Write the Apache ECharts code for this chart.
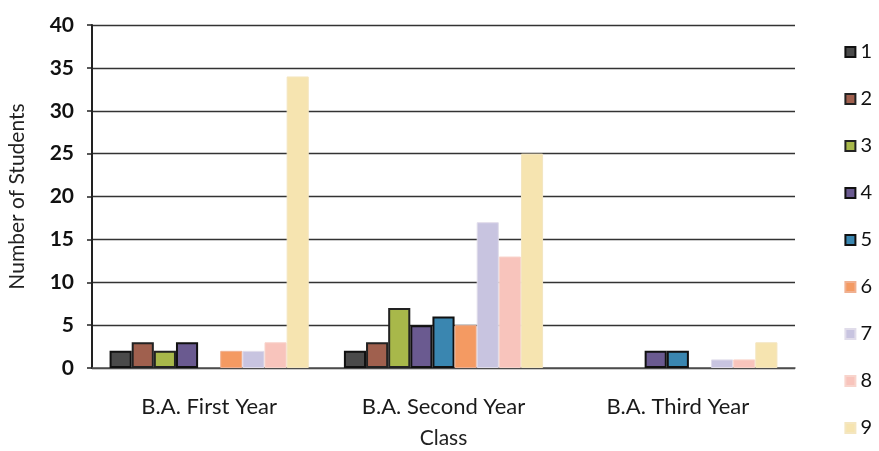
<!DOCTYPE html>
<html><head><meta charset="utf-8">
<script src="https://cdn.jsdelivr.net/npm/echarts@6/dist/echarts.min.js"></script>
<style>html,body{margin:0;padding:0;background:#fff}#c{width:879px;height:451px}</style>
</head><body><div id="c"></div>
<script>
const categories = ['B.A. First Year', 'B.A. Second Year', 'B.A. Third Year'];
const seriesNames = ['1','2','3','4','5','6','7','8','9'];
const s1 = [2, 2, 0];
const s2 = [3, 3, 0];
const s3 = [2, 7, 0];
const s4 = [3, 5, 2];
const s5 = [0, 6, 2];
const s6 = [2, 5, 0];
const s7 = [2, 17, 1];
const s8 = [3, 13, 1];
const s9 = [34, 25, 3];
const yTicks = [0, 5, 10, 15, 20, 25, 30, 35, 40];

const allData = [s1, s2, s3, s4, s5, s6, s7, s8, s9];
const colors = ['#4a4a4a', '#a0604e', '#a8b84a', '#6a5a90', '#3a86b0', '#f49a62', '#c8c4e0', '#f8c4bc', '#f6e4b0'];
const borders = ['#111', '#222', '#222', '#111', '#111', '#f0b090', '#e0dcea', '#f8d4cc', '#f4e6c0'];
const font = 'Lato, "Open Sans", sans-serif';

const chart = echarts.init(document.getElementById('c'));
chart.setOption({
  animation: false,
  grid: { left: 92, right: 84, top: 25, bottom: 83, containLabel: false, outerBoundsMode: 'none' },
  legend: {
    orient: 'vertical', right: 2, top: 37, itemGap: 27,
    itemWidth: 10, itemHeight: 10, icon: 'rect',
    textStyle: { fontSize: 20, color: '#111', fontFamily: font },
    data: seriesNames
  },
  xAxis: {
    type: 'category', data: categories,
    name: 'Class', nameLocation: 'middle', nameGap: 60,
    nameTextStyle: { fontSize: 21, color: '#222', fontFamily: font },
    axisLine: { lineStyle: { color: '#555', width: 1.5 } },
    axisTick: { show: false },
    axisLabel: { fontSize: 22, color: '#1a1a1a', margin: 28, fontFamily: font }
  },
  yAxis: {
    type: 'value', min: 0, max: 40, interval: 5,
    name: 'Number of Students', nameLocation: 'middle', nameGap: 64,
    nameTextStyle: { fontSize: 21, color: '#222', fontFamily: font },
    axisLine: { show: true, lineStyle: { color: '#222', width: 2 } },
    axisTick: { show: true, length: 5, lineStyle: { color: '#222', width: 1.5 } },
    axisLabel: { fontSize: 21, color: '#111', margin: 18, fontFamily: font, fontWeight: 'bold',
      formatter: v => yTicks.includes(v) ? String(v) : '' },
    splitLine: { lineStyle: { color: '#333', width: 1.3 } }
  },
  series: seriesNames.map((n, i) => ({
    name: n, type: 'bar',
    data: allData[i].map(v => v === 0 ? { value: v, itemStyle: { borderWidth: 0, opacity: 0 } } : v),
    barGap: '0%', barCategoryGap: '15%',
    itemStyle: { color: colors[i], borderColor: borders[i], borderWidth: i < 5 ? 2 : 1 }
  }))
});
</script></body></html>
